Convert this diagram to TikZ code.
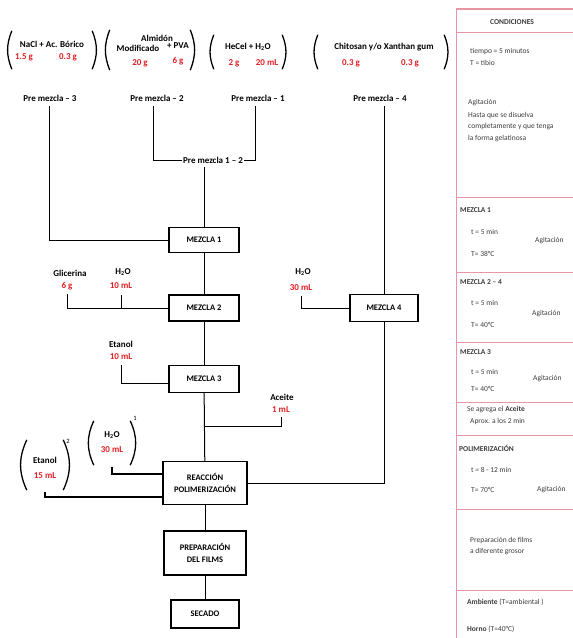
\documentclass[tikz,border=0pt]{standalone}
\usepackage{fontspec}
\setmainfont{Carlito}
\definecolor{qred}{RGB}{225,30,35}
\definecolor{tpink}{RGB}{232,150,165}
\definecolor{tgray}{RGB}{60,60,60}
\begin{document}
\begin{tikzpicture}[x=1pt,y=-1pt,
  flowbox/.style={draw, line width=1.3pt, fill=white, align=center, inner sep=1pt,
    font=\bfseries\fontsize{8.5}{10}\selectfont},
  lbl/.style={inner sep=1pt, font=\bfseries\fontsize{9}{10}\selectfont, align=center},
  qty/.style={inner sep=1pt, text=qred, font=\bfseries\fontsize{9}{10}\selectfont},
  grp/.style={inner sep=0pt},
  paren/.style={line width=1.3pt},
  conn/.style={line width=1pt},
  thick conn/.style={line width=1.5pt},
  tline/.style={draw=tpink, line width=0.9pt},
  ttxt/.style={inner sep=0pt, anchor=west, text=tgray, font=\fontsize{7.5}{9}\selectfont},
  ttxtb/.style={ttxt, font=\bfseries\fontsize{7.5}{9}\selectfont}
]
\useasboundingbox (0,0) rectangle (573,638);

% ---------- top groups ----------
\node[grp, minimum width=80, minimum height=38] (g1) at (52,50) {};
\node[grp, minimum width=80, minimum height=40] (g2) at (150,50) {};
\node[grp, minimum width=68, minimum height=34] (g3) at (248,52) {};
\node[grp, minimum width=126, minimum height=34] (g4) at (381,52) {};
\foreach \g in {g1,g2,g3,g4}{
  \draw[paren] (\g.north west) to[bend right=22] (\g.south west);
  \draw[paren] (\g.north east) to[bend left=22] (\g.south east);
}
\node[lbl] (t1) at (52,44) {NaCl + Ac. Bórico};
\node[qty] (q1a) at (24,57) {1.5 g};
\node[qty] (q1b) at (68,57) {0.3 g};

\node[lbl] (t2a) at (157,38) {Almidón};
\node[lbl] (t2b) at (138,48) {Modificado};
\node[lbl] (t2c) at (178,46) {+ PVA};
\node[qty] (q2a) at (140,63) {20 g};
\node[qty] (q2b) at (178,61) {6 g};

\node[lbl] (t3) at (248,47) {HeCel + H\textsubscript{2}O};
\node[qty] (q3a) at (234,63) {2 g};
\node[qty] (q3b) at (267,63) {20 mL};

\node[lbl] (t4) at (384,47) {Chitosan y/o Xanthan gum};
\node[qty] (q4a) at (351,63) {0.3 g};
\node[qty] (q4b) at (410,63) {0.3 g};

\node[lbl] (pm3) at (50,98) {Pre mezcla – 3};
\node[lbl] (pm2) at (157,98) {Pre mezcla – 2};
\node[lbl] (pm1) at (258,98) {Pre mezcla – 1};
\node[lbl] (pm4) at (380,98) {Pre mezcla – 4};
\node[lbl] (pm12) at (213,160) {Pre mezcla 1 – 2};

% ---------- boxes ----------
\node[flowbox, minimum width=70, minimum height=25] (m1) at (204,240) {MEZCLA 1};
\node[flowbox, minimum width=70, minimum height=26] (m2) at (204,308) {MEZCLA 2};
\node[flowbox, minimum width=70, minimum height=27] (m3) at (204,379) {MEZCLA 3};
\node[flowbox, minimum width=84, minimum height=43] (r) at (205,483) {REACCIÓN\\[2pt]POLIMERIZACIÓN};
\node[flowbox, minimum width=82, minimum height=44] (prep) at (205,553) {PREPARACIÓN\\[2pt]DEL FILMS};
\node[flowbox, minimum width=68, minimum height=28] (sec) at (205,614) {SECADO};
\node[flowbox, minimum width=68, minimum height=27] (m4) at (384,308) {MEZCLA 4};

% ---------- side ingredients ----------
\node[lbl] (gli) at (70,273) {Glicerina};
\node[qty] (gli6) at (67,286) {6 g};
\node[lbl] (h2a) at (123,272) {H\textsubscript{2}O};
\node[qty] (h2a10) at (121,286) {10 mL};
\node[lbl] (eta) at (121,344) {Etanol};
\node[qty] (eta10) at (121,357) {10 mL};
\node[lbl] (ace) at (282,397) {Aceite};
\node[qty] (ace1) at (281,410) {1 mL};
\node[lbl] (h2b) at (303,272) {H\textsubscript{2}O};
\node[qty] (h2b30) at (301,288) {30 mL};

\node[grp, minimum width=36, minimum height=44] (g5) at (112,443) {};
\node[grp, minimum width=36, minimum height=50] (g6) at (45,465) {};
\foreach \g in {g5,g6}{
  \draw[paren] (\g.north west) to[bend right=25] (\g.south west);
  \draw[paren] (\g.north east) to[bend left=25] (\g.south east);
}
\node[lbl] (h2c) at (112,435) {H\textsubscript{2}O};
\node[qty] (h2c30) at (112,450) {30 mL};
\node[lbl, font=\fontsize{6.5}{7}\selectfont] (sup1) at (135,418) {1};
\node[lbl] (et2) at (45,460) {Etanol};
\node[qty] (et215) at (45,476) {15 mL};
\node[lbl, font=\fontsize{6.5}{7}\selectfont] (sup2) at (68,441) {2};

% ---------- connectors ----------
\draw[conn, shorten <=4pt] ([xshift=-1pt]pm3.south) |- (m1.west);
\draw[conn, shorten <=4pt] ([xshift=-4pt]pm2.south) |- (pm12.west);
\draw[conn, shorten <=4pt] ([xshift=-3pt]pm1.south) |- (pm12.east);
\draw[conn, shorten <=3pt] (m1.north |- pm12.south) -- (m1.north);
\draw[conn, shorten <=4pt] (m4.north |- pm4.south) -- (m4.north);
\draw[conn] (m1) -- (m2);
\draw[conn] (m2) -- (m3);
\draw[conn] (m3) -- (r);
\draw[conn] (r) -- (prep);
\draw[conn] (prep) -- (sec);
\draw[conn, shorten <=3pt] (gli6.south) |- (m2.west);
\draw[conn, shorten <=5pt] (h2a10.south) -- (h2a10.south |- m2.west);
\draw[conn, shorten <=4pt] (eta10.south) |- ([yshift=-4pt]m3.west);
\coordinate (acj) at (m3.south |- 0,426);
\draw[conn, shorten <=3pt] (ace1.south) |- (acj);
\draw[conn, shorten <=4pt] (h2b30.south) |- (m4.west);
\draw[thick conn, shorten <=2pt] (g5.south) |- ([yshift=9pt]r.west);
\draw[thick conn, shorten <=2pt] (g6.south) |- ([yshift=-14pt]r.west);
\draw[conn] (r.east) -| (m4.south);

% ---------- conditions table ----------
\draw[tpink, line width=0.9pt] (456,8) -- (456,638);
\draw[tpink, line width=1.8pt] (456,9) -- (573,9);
\foreach \yy in {32,197,272,342,402,435,509,590}{
  \draw[tline] (456,\yy) -- (573,\yy);
}
\node[ttxtb, anchor=center] (c0) at (512,22) {CONDICIONES};
\node[ttxt] (c1) at (470,52) {tiempo = 5 minutos};
\node[ttxt] (c2) at (470,63) {T = tibio};
\node[ttxt] (c3) at (468,103) {Agitación};
\node[ttxt] (c4) at (468,115) {Hasta que se disuelva};
\node[ttxt] (c5) at (468,127) {completamente y que tenga};
\node[ttxt] (c6) at (468,139) {la forma gelatinosa};

\node[ttxtb] (d0) at (460,210) {MEZCLA 1};
\node[ttxt] (d1) at (471,232) {t = 5 min};
\node[ttxt] (d2) at (471,254) {T= 38°C};
\node[ttxt] (d3) at (535,241) {Agitación};

\node[ttxtb] (e0) at (460,282) {MEZCLA 2 – 4};
\node[ttxt] (e1) at (471,303) {t = 5 min};
\node[ttxt] (e2) at (471,325) {T= 40°C};
\node[ttxt] (e3) at (532,314) {Agitación};

\node[ttxtb] (f0) at (460,352) {MEZCLA 3};
\node[ttxt] (f1) at (471,372) {t = 5 min};
\node[ttxt] (f2) at (471,389) {T= 40°C};
\node[ttxt] (f3) at (533,379) {Agitación};

\node[ttxt] (h0) at (467,410) {Se agrega el \textbf{Aceite}};
\node[ttxt] (h1) at (470,421) {Aprox. a los 2 min};

\node[ttxtb] (k0) at (459,448) {POLIMERIZACIÓN};
\node[ttxt] (k1) at (471,470) {t = 8 - 12 min};
\node[ttxt] (k2) at (471,490) {T= 70°C};
\node[ttxt] (k3) at (537,490) {Agitación};

\node[ttxt] (p1) at (470,540) {Preparación de films};
\node[ttxt] (p2) at (470,552) {a diferente grosor};

\node[ttxt] (s1) at (467,602) {\textbf{Ambiente} (T=ambiental )};
\node[ttxt] (s2) at (467,629) {\textbf{Horno} (T=40°C)};
\end{tikzpicture}
\end{document}
